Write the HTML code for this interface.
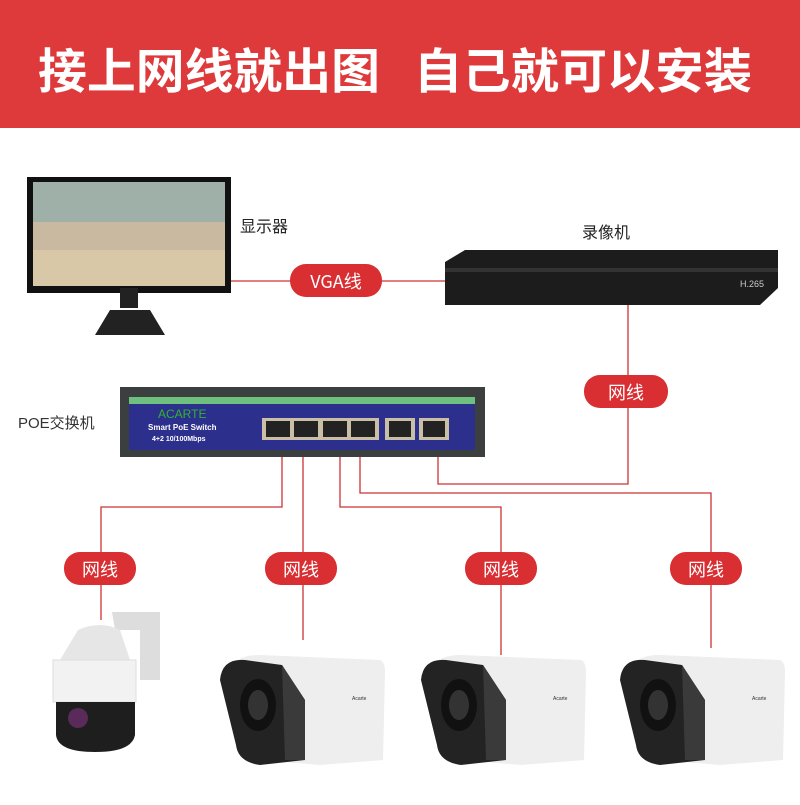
<!DOCTYPE html>
<html><head><meta charset="utf-8"><style>
body{margin:0;width:800px;height:800px;overflow:hidden;background:#fff;font-family:"Liberation Sans","Noto Sans CJK SC",sans-serif}
</style></head><body>
<svg width="800" height="800" viewBox="0 0 800 800" xmlns="http://www.w3.org/2000/svg" font-family="Liberation Sans, Noto Sans CJK SC, sans-serif">
<rect x="0" y="0" width="800" height="128" fill="#df3a3b"/>
<g font-size="48" font-weight="bold" fill="#fff" font-family="Noto Sans CJK SC, sans-serif">
<text x="38" y="88" textLength="342" lengthAdjust="spacingAndGlyphs">接上网线就出图</text>
<text x="414" y="88" textLength="338" lengthAdjust="spacingAndGlyphs">自己就可以安装</text>
</g>
<!-- monitor -->
<rect x="27" y="177" width="204" height="116" fill="#111"/>
<rect x="33" y="182" width="192" height="104" fill="#c9b9a0"/>
<rect x="33" y="182" width="192" height="40" fill="#9fb0a8"/>
<rect x="33" y="250" width="192" height="36" fill="#d8c8a8"/>
<rect x="120" y="288" width="18" height="20" fill="#222"/>
<path d="M95 335 L165 335 L150 310 L110 310 Z" fill="#222"/>
<text x="240" y="232" font-size="16" fill="#222">显示器</text>
<!-- NVR -->
<text x="582" y="238" font-size="16" fill="#222">录像机</text>
<path d="M445 262 L465 250 L778 250 L778 288 L760 305 L445 305 Z" fill="#1c1c1c"/>
<rect x="445" y="268" width="333" height="4" fill="#333"/>
<text x="740" y="287" font-size="9" fill="#ccc">H.265</text>
<!-- lines -->
<g stroke="#c33" stroke-width="1.3" fill="none">
<path d="M231 281 H445"/>
<path d="M628 305 V484 H438 V457"/>
<path d="M282 457 V507 H101 V620"/>
<path d="M303 457 V640"/>
<path d="M340 457 V507 H501 V655"/>
<path d="M360 457 V493 H711 V648"/>
</g>
<!-- switch -->
<rect x="120" y="387" width="365" height="70" fill="#3b3f3f"/>
<rect x="129" y="397" width="346" height="7" fill="#6fc07f"/>
<rect x="129" y="404" width="346" height="46" fill="#2d2f8c"/>
<text x="158" y="418" font-size="12" fill="#2fb52f">ACARTE</text>
<text x="148" y="430" font-size="8" font-weight="bold" fill="#fff">Smart PoE Switch</text>
<text x="152" y="441" font-size="7" font-weight="bold" fill="#fff">4+2 10/100Mbps</text>
<rect x="262" y="418" width="117" height="22" fill="#c9bfa6"/>
<g fill="#222"><rect x="266" y="421" width="24" height="16"/><rect x="294" y="421" width="24" height="16"/><rect x="323" y="421" width="24" height="16"/><rect x="351" y="421" width="24" height="16"/></g>
<rect x="385" y="418" width="30" height="22" fill="#c9bfa6"/><rect x="389" y="421" width="22" height="16" fill="#222"/>
<rect x="419" y="418" width="30" height="22" fill="#c9bfa6"/><rect x="423" y="421" width="22" height="16" fill="#222"/>
<text x="18" y="428" font-size="15" fill="#333">POE交换机</text>
<!-- pills -->
<g font-size="18" fill="#fff" text-anchor="middle" font-family="Noto Sans CJK SC, sans-serif">
<rect x="290" y="264" width="92" height="33" rx="16" fill="#d92f32"/><text x="336" y="288">VGA线</text>
<rect x="584" y="375" width="84" height="33" rx="16" fill="#d92f32"/><text x="626" y="399">网线</text>
<rect x="64" y="552" width="72" height="33" rx="16" fill="#d92f32"/><text x="100" y="576">网线</text>
<rect x="265" y="552" width="72" height="33" rx="16" fill="#d92f32"/><text x="301" y="576">网线</text>
<rect x="465" y="552" width="72" height="33" rx="16" fill="#d92f32"/><text x="501" y="576">网线</text>
<rect x="670" y="552" width="72" height="33" rx="16" fill="#d92f32"/><text x="706" y="576">网线</text>
</g>
<!-- PTZ camera -->
<path d="M112 612 H160 V680 H140 V630 H115 Z" fill="#ddd"/>
<path d="M78 630 Q100 620 120 630 L130 660 H60 Z" fill="#e6e6e6"/>
<rect x="53" y="660" width="83" height="42" fill="#f2f2f2" stroke="#ddd"/>
<path d="M56 702 H135 V735 Q132 752 95 752 Q58 752 56 735 Z" fill="#1e1e1e"/>
<circle cx="78" cy="718" r="10" fill="#5a2a5a"/>
<!-- bullet cameras -->
<g id="cam">
<path d="M232 665 Q240 655 260 655 L380 660 Q385 662 385 672 L383 760 L320 765 L260 760 Z" fill="#eee"/>
<path d="M220 680 Q222 658 245 660 L282 665 L305 700 L305 760 L260 765 Q238 762 236 745 Z" fill="#232323"/>
<ellipse cx="258" cy="705" rx="18" ry="26" fill="#111"/>
<ellipse cx="258" cy="705" rx="10" ry="15" fill="#333"/>
<path d="M282 665 L305 700 V760 H285 Z" fill="#3a3a3a"/>
<text x="352" y="700" font-size="5" fill="#333">Acarte</text>
</g>
<use href="#cam" x="201"/>
<use href="#cam" x="400"/>
</svg>
</body></html>
